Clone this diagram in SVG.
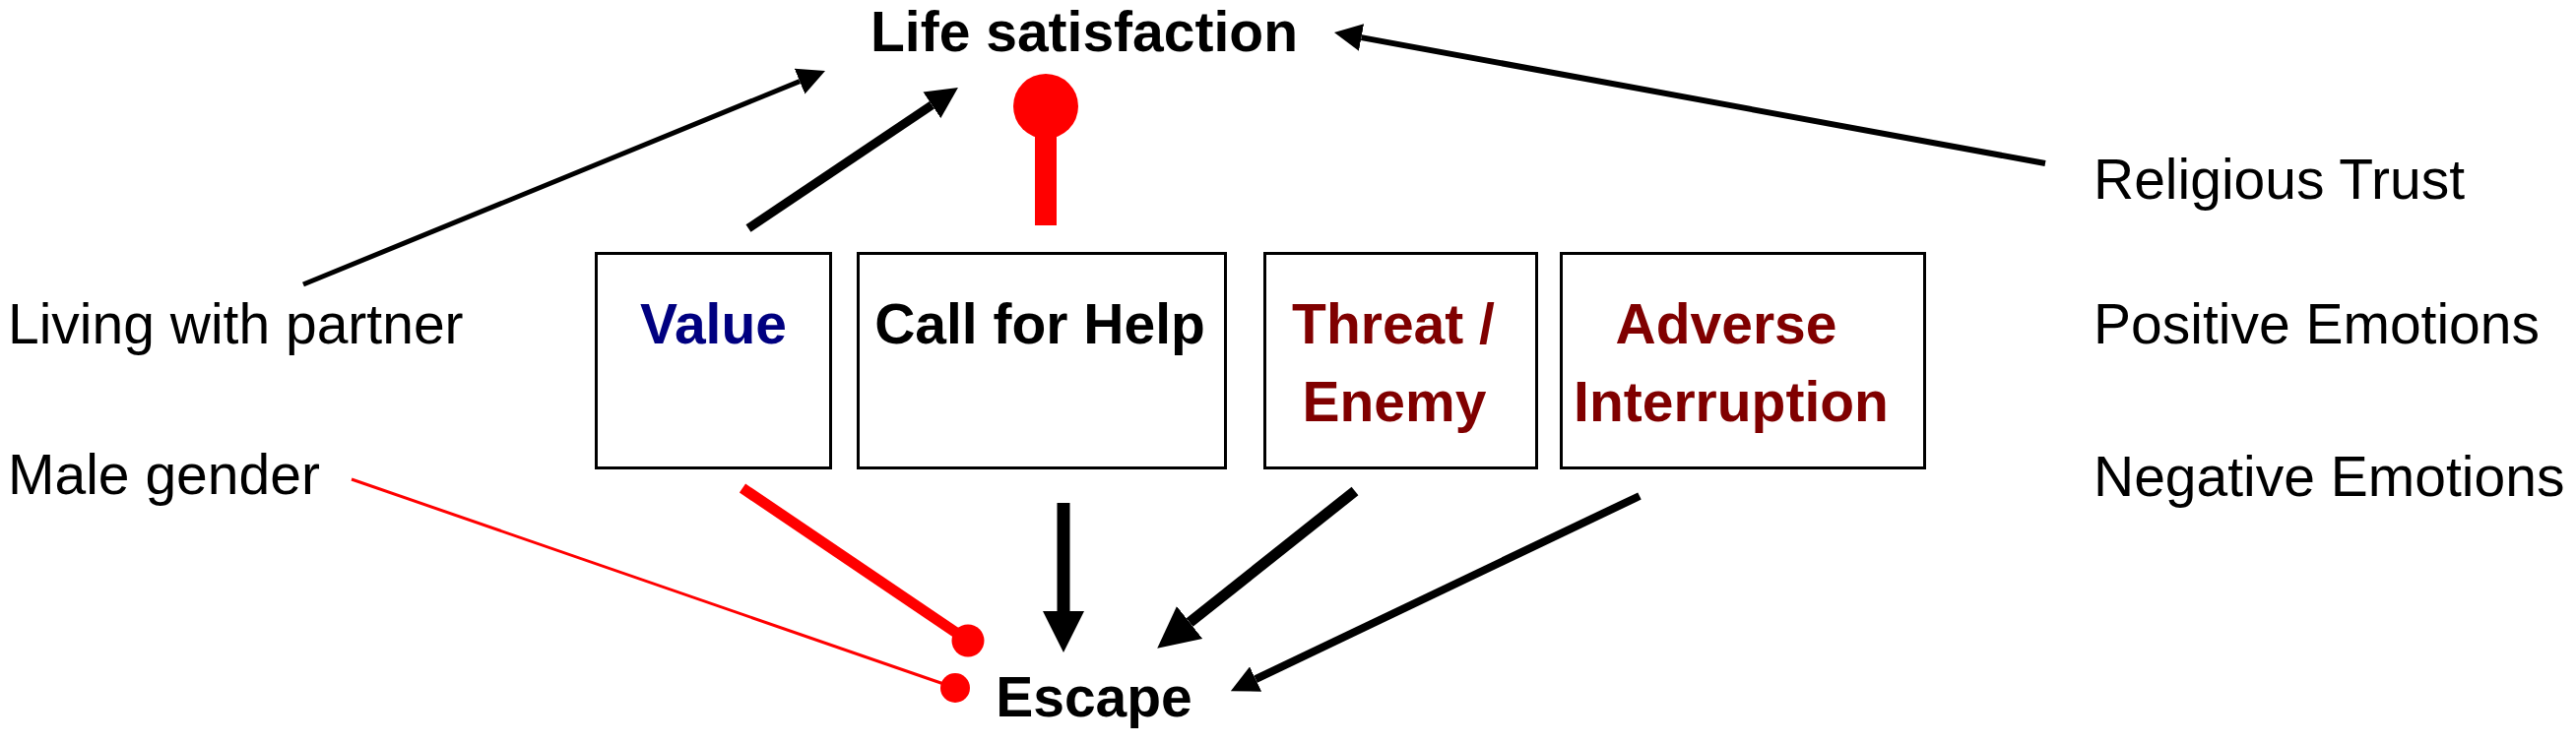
<svg xmlns="http://www.w3.org/2000/svg" width="2616" height="756" viewBox="0 0 2616 756">
<style>
text{font-family:"Liberation Sans",Arial,sans-serif;font-size:57px;fill:#000}
.b{font-weight:bold}
.navy{fill:#000080}
.maroon{fill:#800000}
.box{fill:#fff;stroke:#000;stroke-width:3}
.k{stroke:#000;fill:none;stroke-linecap:butt}
.r{stroke:#f00;fill:none}
.dot{fill:#f00}
</style>
<defs>
<marker id="ah" viewBox="0 0 10 10" refX="0" refY="5" markerUnits="userSpaceOnUse" markerWidth="28" markerHeight="28" orient="auto"><path d="M0,0 L10,5 L0,10 z" fill="#000"/></marker>
<marker id="ahm" viewBox="0 0 10 10" refX="0" refY="5" markerUnits="userSpaceOnUse" markerWidth="32" markerHeight="32" orient="auto"><path d="M0,0 L10,5 L0,10 z" fill="#000"/></marker>
<marker id="ahl" viewBox="0 0 10 10" refX="0" refY="5" markerUnits="userSpaceOnUse" markerWidth="42" markerHeight="44" orient="auto"><path d="M0,0 L10,5 L0,10 z" fill="#000"/></marker>
</defs>
<rect width="2616" height="756" fill="#fff"/>
<g id="connectors">
<line class="k" x1="308" y1="289" x2="812.1" y2="82.6" stroke-width="5" marker-end="url(#ah)"/>
<line class="k" x1="760" y1="232" x2="946.4" y2="106.8" stroke-width="9" marker-end="url(#ahm)"/>
<line class="k" x1="2077" y1="166" x2="1382.5" y2="38.1" stroke-width="6" marker-end="url(#ah)"/>
<line class="r" x1="1062" y1="229" x2="1062" y2="108" stroke-width="22"/>
<circle class="dot" cx="1062" cy="108" r="33"/>
<line class="r" x1="754" y1="496" x2="983" y2="651" stroke-width="11"/>
<circle class="dot" cx="983" cy="651" r="16.5"/>
<line class="r" x1="357" y1="487" x2="970" y2="699" stroke-width="3"/>
<circle class="dot" cx="970" cy="699" r="15"/>
<line class="k" x1="1080" y1="511" x2="1080" y2="621" stroke-width="13" marker-end="url(#ahl)"/>
<line class="k" x1="1376" y1="499" x2="1208.1" y2="632.5" stroke-width="11" marker-end="url(#ahl)"/>
<line class="k" x1="1665" y1="504" x2="1275.1" y2="690.1" stroke-width="8" marker-end="url(#ah)"/>
</g>
<g id="life"><text class="b" x="1101" y="52" text-anchor="middle">Life satisfaction</text></g>
<g id="escape"><text class="b" x="1111" y="728" text-anchor="middle">Escape</text></g>
<g id="value"><rect class="box" x="605.5" y="257.5" width="238" height="218"/><text class="b navy" x="724.5" y="349" text-anchor="middle">Value</text></g>
<g id="callforhelp"><rect class="box" x="871.5" y="257.5" width="373" height="218"/><text class="b" x="1056" y="349" text-anchor="middle">Call for Help</text></g>
<g id="threat"><rect class="box" x="1284.5" y="257.5" width="276" height="218"/><text class="b maroon" x="1415" y="349" text-anchor="middle">Threat /</text><text class="b maroon" x="1416" y="428" text-anchor="middle">Enemy</text></g>
<g id="adverse"><rect class="box" x="1585.5" y="257.5" width="369" height="218"/><text class="b maroon" x="1753" y="349" text-anchor="middle">Adverse</text><text class="b maroon" x="1758" y="428" text-anchor="middle">Interruption</text></g>
<g id="living"><text x="8" y="349">Living with partner</text></g>
<g id="male"><text x="8" y="502">Male gender</text></g>
<g id="religious"><text x="2126" y="202">Religious Trust</text></g>
<g id="positive"><text x="2126" y="349">Positive Emotions</text></g>
<g id="negative"><text x="2126" y="504">Negative Emotions</text></g>
</svg>
